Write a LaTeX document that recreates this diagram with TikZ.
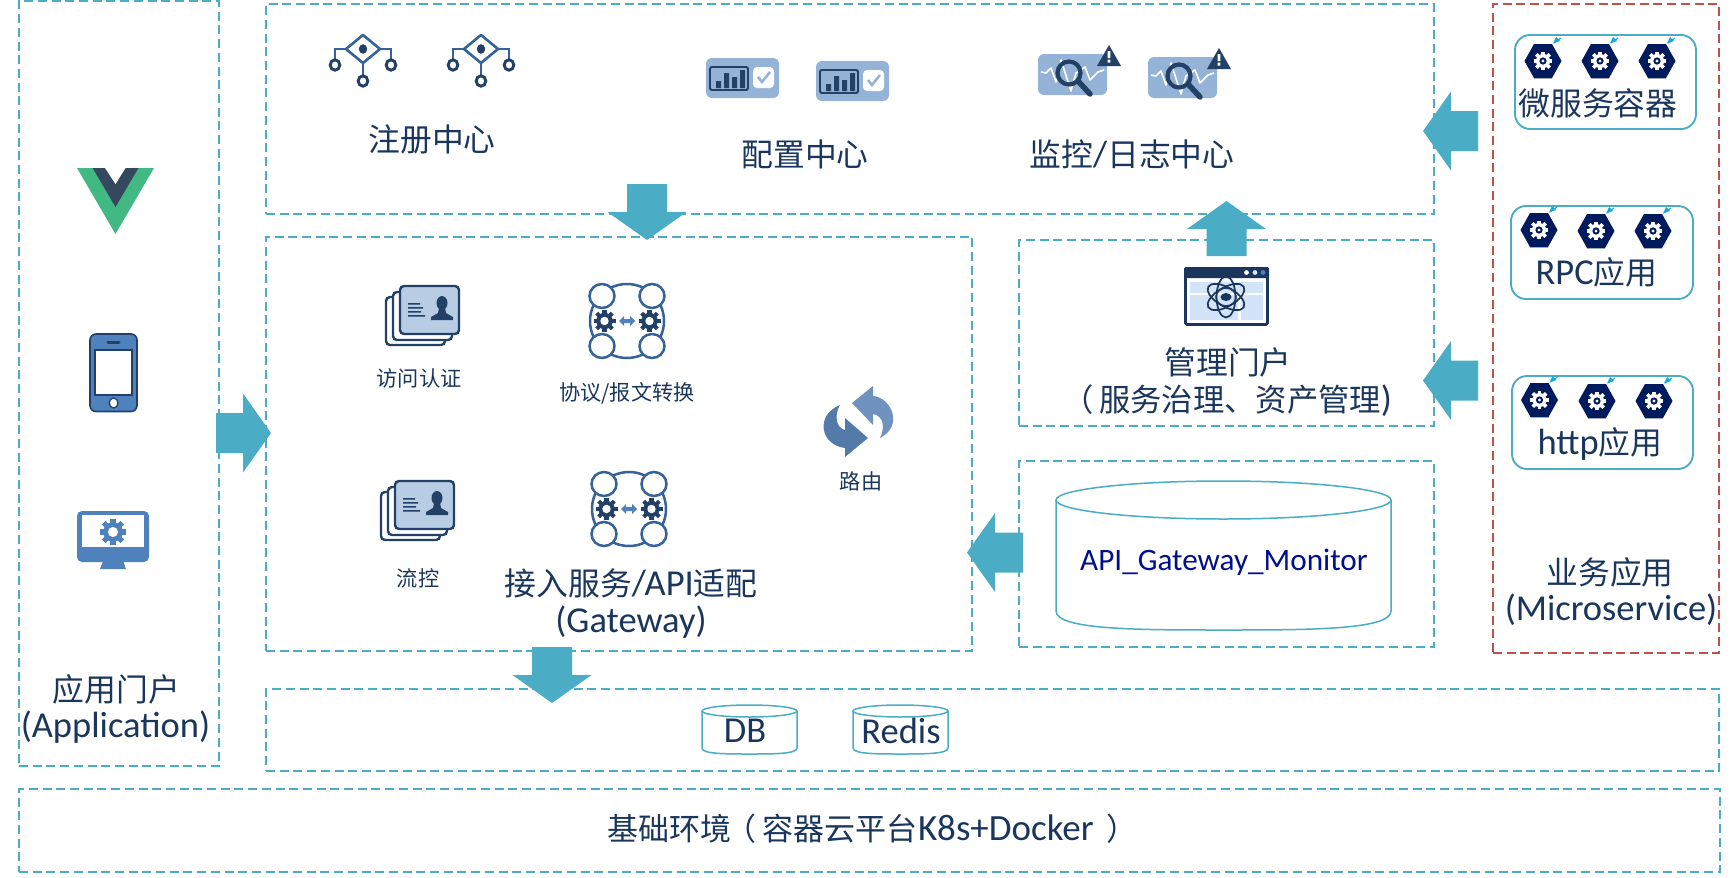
\documentclass[tikz,border=0pt]{standalone}
\usepackage{fontspec}
\setmainfont{Carlito}
\newfontfamily\cjk{Noto Sans CJK SC}
\usetikzlibrary{calc}
\newcommand\zh[1]{{\cjk #1}}
\newcommand\lat[1]{{\fontsize{36.5}{36}\selectfont #1}}
\definecolor{teal}{HTML}{4BACC6}
\definecolor{redd}{HTML}{C0504D}
\definecolor{txtblue}{HTML}{1A365D}
\definecolor{icondark}{HTML}{234067}
\definecolor{iconmid}{HTML}{36629A}
\definecolor{iconlight}{HTML}{95B3D7}
\definecolor{cardfill}{HTML}{B8CCE4}
\definecolor{phoneblue}{HTML}{4F81BD}
\definecolor{hexnavy}{HTML}{001A5E}
\definecolor{skyb}{HTML}{1AA7E0}
\definecolor{panelb}{HTML}{D3E3F8}
\definecolor{monblue}{HTML}{000F8C}
\definecolor{vuegreen}{HTML}{42B983}
\definecolor{vuedark}{HTML}{35495E}
\tikzset{
  every node/.style={outer sep=0pt},
  dbox/.style={draw=teal,line width=1.7pt,dash pattern=on 9pt off 4.7pt,inner sep=0pt},
  rbox/.style={draw=redd,line width=1.7pt,dash pattern=on 9pt off 4.7pt,inner sep=0pt},
  appbox/.style={draw=teal,line width=1.9pt,rounded corners=15pt},
  cyl/.style={draw=teal,line width=1.5pt,fill=white},
  big/.style={font=\fontsize{31.8}{36}\selectfont,text=txtblue,inner sep=0pt},
  small/.style={font=\fontsize{21.2}{25}\selectfont,text=txtblue,inner sep=0pt},
  blockarrow/.style={fill=teal}
}
% named box from corners
\newcommand\namedbox[6]{%
  \pgfmathsetmacro\bw{#5-#3}\pgfmathsetmacro\bh{#6-#4}%
  \node[#1,minimum width=\bw pt,minimum height=\bh pt,anchor=north west] (#2) at (#3,#4) {};}
\newcommand\barrow[2]{%
  \coordinate (hb) at ($(#2)!28pt!(#1)$);
  \fill[blockarrow] ($(#1)!20pt!90:(#2)$) -- ($(hb)!20pt!90:(#2)$) -- ($(hb)!39.5pt!90:(#2)$) -- (#2)
     -- ($(hb)!39.5pt!-90:(#2)$) -- ($(hb)!20pt!-90:(#2)$) -- ($(#1)!20pt!-90:(#2)$) -- cycle;}
\newcommand\cylinder[6]{% name x1 ytop x2 ybot ry
  \pgfmathsetmacro\rx{(#4-#2)/2}\pgfmathsetmacro\cx{(#4+#2)/2}%
  \coordinate (#1) at (\cx,{(#3+#5)/2});
  \draw[cyl] (#2,#3+#6) -- (#2,#5-#6) .. controls (#2,#5) and (\cx-\rx*.5,#5) .. (\cx,#5)
     .. controls (\cx+\rx*.5,#5) and (#4,#5) .. (#4,#5-#6) -- (#4,#3+#6);
  \draw[cyl] (\cx,#3+#6) ellipse[x radius=\rx,y radius=#6];}
\newcommand\gearicon[5]{% x y r colour hole
  \begin{scope}[shift={(#1,#2)}]
    \pgfmathsetmacro\tw{#3*0.42}
    \fill[#4] (0,0) circle[radius=#3*0.82];
    \foreach \ga in {0,45,...,315}{\draw[#4,line width=\tw pt] (\ga:#3*0.6) -- (\ga:#3*1.1);}
    \fill[#5] (0,0) circle[radius=#3*0.42];
  \end{scope}}
\newcommand\regicon[2]{%
  \begin{scope}[shift={(#1,#2)}]
    \draw[iconmid,line width=2.6pt,line join=round] (-17,0) -- (0,-14) -- (17,0) -- (0,14) -- cycle;
    \draw[iconmid,line width=2.6pt] (-17,0) -- (-28,0) -- (-28,11);
    \draw[iconmid,line width=2.6pt] (17,0) -- (28,0) -- (28,11);
    \draw[iconmid,line width=2.6pt] (0,14) -- (0,26);
    \fill[icondark] (0,0) ellipse[x radius=4.2,y radius=4.8];
    \foreach \px/\py in {-28/16,28/16,0/32}{\draw[icondark,line width=2.9pt,fill=white] (\px,\py) ellipse[x radius=4.8,y radius=5.2];}
  \end{scope}}
\newcommand\cfgicon[2]{%
  \begin{scope}[shift={(#1,#2)}]
    \fill[iconlight,rounded corners=6pt] (0,0) rectangle (73,40);
    \draw[icondark,line width=1.8pt,rounded corners=1.5pt] (4,9) rectangle (42,32);
    \fill[icondark] (10,23) rectangle (15,30) (18,15) rectangle (23,30) (26,19) rectangle (31,30) (34,12) rectangle (39,30);
    \fill[white,rounded corners=4pt] (47,9) rectangle (68,30);
    \draw[iconlight,line width=2.6pt] (52,19) -- (56,24) -- (64,14);
  \end{scope}}
\newcommand\monicon[2]{%
  \begin{scope}[shift={(#1,#2)}]
    \fill[iconlight,rounded corners=6pt] (0,0) rectangle (69,41);
    \draw[white,line width=1.6pt,line join=round] (3,18) -- (8,19) -- (13,14) -- (18,28) -- (23,6) -- (33,37) -- (38,19) -- (47,13) -- (52,26) -- (60,18) -- (66,16);
    \draw[icondark,line width=4.2pt] (31,19) circle[radius=11.5];
    \draw[icondark,line width=5.5pt,line cap=round] (40,27) -- (52,40);
    \fill[icondark] (71,-9) -- (83,12) -- (59,12) -- cycle;
    \fill[white] (69.7,-3) rectangle (72.3,4) (69.7,5.5) rectangle (72.3,8.5);
  \end{scope}}
\newcommand\cardicon[2]{%
  \begin{scope}[shift={(#1,#2)}]
    \draw[icondark,line width=2.4pt,fill=white,rounded corners=4pt] (-14,11) rectangle (45,59);
    \draw[icondark,line width=2.4pt,fill=white,rounded corners=4pt] (-7,6) rectangle (52,54);
    \draw[icondark,line width=2.4pt,fill=cardfill,rounded corners=4pt] (0,0) rectangle (59,48);
    \fill[icondark] (42,17) ellipse[x radius=5.5,y radius=7];
    \fill[icondark] (39,22) -- (45,22) -- (46,27) -- (53,31) -- (53,34) -- (31,34) -- (31,31) -- (38,27) -- cycle;
    \fill[icondark] (8,17) rectangle (20,18.5) (8,21) rectangle (23,22.5) (8,25) rectangle (21,26.5) (8,29) rectangle (25,30.5);
  \end{scope}}
\newcommand\protoicon[2]{%
  \begin{scope}[shift={(#1,#2)}]
    \draw[iconmid,line width=2.5pt] (0,0) circle[radius=37];
    \foreach \px in {-25,25}{\foreach \py in {-25,25}{\draw[iconmid,line width=2.5pt,fill=white] (\px,\py) ellipse[x radius=12.5,y radius=12];}}
    \gearicon{-22.5}{0}{10}{icondark}{white}
    \gearicon{22.5}{0}{10}{icondark}{white}
    \fill[phoneblue] (-8,0) -- (-3,-5) -- (-3,-2) -- (3,-2) -- (3,-5) -- (8,0) -- (3,5) -- (3,2) -- (-3,2) -- (-3,5) -- cycle;
  \end{scope}}
\newcommand\hexicon[2]{%
  \begin{scope}[shift={(#1,#2)}]
    \draw[line width=.8pt,black!25] (-9,17.5) -- (9,17.5);
    \fill[hexnavy] (-18.5,0) -- (-9,-17) -- (9,-17) -- (18.5,0) -- (9,17) -- (-9,17) -- cycle;
    \draw[skyb,line width=1pt] (11,-18) -- (18,-23);
    \fill[skyb] (10,-17.5) -- (17,-20) -- (13,-24) -- cycle;
    \gearicon{0}{0}{8.6}{white}{hexnavy}
    \fill[white] (0,0) circle[radius=1.6];
  \end{scope}}
\begin{document}
\begin{tikzpicture}[x=1pt,y=-1pt]
\useasboundingbox (0,0) rectangle (1735,878);
% --- dashed frames
\namedbox{dbox}{appframe}{19}{1}{219}{766}
\namedbox{dbox}{topframe}{266}{4}{1434}{214}
\namedbox{dbox}{gwframe}{266}{237}{972}{651}
\namedbox{dbox}{mgmtframe}{1019}{240}{1434}{426}
\namedbox{dbox}{monframe}{1019}{461}{1434}{647}
\namedbox{rbox}{msframe}{1493}{4}{1719}{653}
\namedbox{dbox}{dbframe}{266}{689}{1719}{771}
\namedbox{dbox}{baseframe}{19}{789}{1720}{872}
% --- application column
\fill[vuegreen] (77,168) -- (154,168) -- (115.5,234) -- cycle;
\fill[vuedark] (92.6,168) -- (138.5,168) -- (115.5,207) -- cycle;
\fill[white] (105,168) -- (125.5,168) -- (115.5,184) -- cycle;
\draw[icondark,line width=1.6pt,fill=phoneblue,rounded corners=6pt] (90,334) rectangle (137,411.5);
\draw[icondark,line width=1.5pt,fill=white] (95,350) rectangle (132,395);
\draw[icondark,line width=1.3pt,fill=white] (113.6,403) ellipse[x radius=4.4,y radius=5];
\draw[icondark,line width=3pt,line cap=round] (108,342) -- (119,342);
\fill[phoneblue,rounded corners=5pt] (77,511) rectangle (149,562);
\fill[phoneblue] (103.5,560) -- (123,560) -- (126,569) -- (100,569) -- cycle;
\fill[white] (82,515) rectangle (144,547);
\gearicon{113}{532}{12}{phoneblue}{white}
\node[big] (applbl) at (116.5,689) {\zh{应用门户}};
\node[big] (applbl2) at (115.5,727) {\lat{(Application)}};
% --- top services
\regicon{363}{49}\regicon{481}{49}
\cfgicon{706}{58}\cfgicon{816}{61}
\monicon{1038}{54}\monicon{1148}{57}
\node[big] (reglbl) at (432,139.5) {\zh{注册中心}};
\node[big] (cfglbl) at (805,154) {\zh{配置中心}};
\node[big] (monlbl) at (1132,154) {\zh{监控}\lat{/}\zh{日志中心}};
% --- gateway
\cardicon{400}{286}\cardicon{395}{481}
\protoicon{627}{321}\protoicon{629}{509}
\node[small] (authlbl) at (419,378) {\zh{访问认证}};
\node[small] (protolbl) at (627,393) {\zh{协议/报文转换}};
\node[small] (flowlbl) at (418,578) {\zh{流控}};
\node[small] (routelbl) at (861,481) {\zh{路由}};
\fill[iconlight!60!iconmid] (852,403) -- (873,386) -- (873,396) .. controls (890,397) and (905,425) .. (880,438)
   .. controls (885,428) and (884,416) .. (873,414) -- (873,425) -- cycle;
\fill[iconmid!85!white] (868,438) -- (845,418) -- (845,430) .. controls (836,428) and (834,415) .. (840,405)
   .. controls (815,415) and (820,445) .. (845,448) -- (845,457) -- cycle;
\node[big] (gwlbl) at (631,583) {\zh{接入服务}\lat{/API}\zh{适配}};
\node[big] (gwlbl2) at (631,622) {\lat{(Gateway)}};
% --- management portal
\draw[txtblue,line width=2.6pt,fill=white,rounded corners=1.5pt] (1185.5,268.5) rectangle (1267.5,324.5);
\fill[txtblue,rounded corners=1.5pt] (1184,267) rectangle (1269,278);
\foreach \dx/\dc in {1246.5/white,1255/panelb,1263/phoneblue}{\fill[\dc] (\dx,272.5) circle[radius=2.4];}
\fill[panelb] (1190,282) rectangle (1263,293) (1190,295) rectangle (1238,320) (1241,295) rectangle (1263,320);
\foreach \ang in {30,90,150}{\draw[txtblue,line width=1.7pt,rotate around={\ang:(1226,297)}] (1226,297) ellipse[x radius=20.5,y radius=9.5];}
\draw[txtblue,line width=1.5pt] (1226,297) ellipse[x radius=10,y radius=9];
\fill[txtblue] (1226,297) ellipse[x radius=5.5,y radius=4];
\node[big] (mgmtlbl) at (1228,362) {\zh{管理门户}};
\node[big,font=\fontsize{31.3}{36}\selectfont,anchor=east] (mgmtlbl2) at (1392,401) {\zh{（}\kern5pt\zh{服务治理、资产管理}\lat{)}};
% --- monitor DB
\cylinder{mondb}{1056}{481}{1391}{630}{19}
\node[font=\fontsize{31.2}{36}\selectfont,text=monblue,inner sep=0pt] (monlbl2) at (1224,562) {API\_Gateway\_Monitor};
% --- micro services
\node[appbox,minimum width=181pt,minimum height=94pt,anchor=north west] (msbox1) at (1515,35) {};
\node[appbox,minimum width=182pt,minimum height=93pt,anchor=north west] (msbox2) at (1511,206) {};
\node[appbox,minimum width=181pt,minimum height=93pt,anchor=north west] (msbox3) at (1512,376) {};
\hexicon{1543}{61}\hexicon{1600}{61}\hexicon{1657}{61}
\hexicon{1539}{230}\hexicon{1596}{231}\hexicon{1653}{231}
\hexicon{1539.5}{400}\hexicon{1597}{401}\hexicon{1654}{401}
\node[big] (ms1lbl) at (1598,103) {\zh{微服务容器}};
\node[big] (ms2lbl) at (1596.5,272) {\lat{RPC}\zh{应用}};
\node[big] (ms3lbl) at (1600,444) {\lat{http}\zh{应用}};
\node[big] (mslbl) at (1610,572) {\zh{业务应用}};
\node[big] (mslbl2) at (1611,610) {\lat{(Microservice)}};
% --- storage
\cylinder{dbcyl}{702}{705}{797}{754}{6}
\cylinder{rediscyl}{853}{705}{948}{754}{6}
\node[big] (dblbl) at (745,731) {\lat{DB}};
\node[big] (redislbl) at (901,731) {\lat{Redis}};
\node[big,font=\fontsize{31}{36}\selectfont,anchor=west] (baselbl) at (607,829) {\zh{基础环境}\kern-6pt\zh{（}\kern7pt\zh{容器云平台}{\fontsize{37}{36}\selectfont K8s+Docker}\kern13pt\zh{）}};
% --- block arrows
\coordinate (a1s) at (216,433); \coordinate (a1t) at (271,433);
\coordinate (a2s) at (647,184); \coordinate (a2t) at (647,240);
\coordinate (a3s) at (1226.5,256); \coordinate (a3t) at (1226.5,201);
\coordinate (a4s) at (1478,131); \coordinate (a4t) at (1423,131);
\coordinate (a5s) at (1478,380.5); \coordinate (a5t) at (1423,380.5);
\coordinate (a6s) at (1023,552.5); \coordinate (a6t) at (967,552.5);
\coordinate (a7s) at (552,647); \coordinate (a7t) at (552,703);
\barrow{a1s}{a1t}\barrow{a2s}{a2t}\barrow{a3s}{a3t}\barrow{a4s}{a4t}\barrow{a5s}{a5t}\barrow{a6s}{a6t}\barrow{a7s}{a7t}
\end{tikzpicture}
\end{document}
